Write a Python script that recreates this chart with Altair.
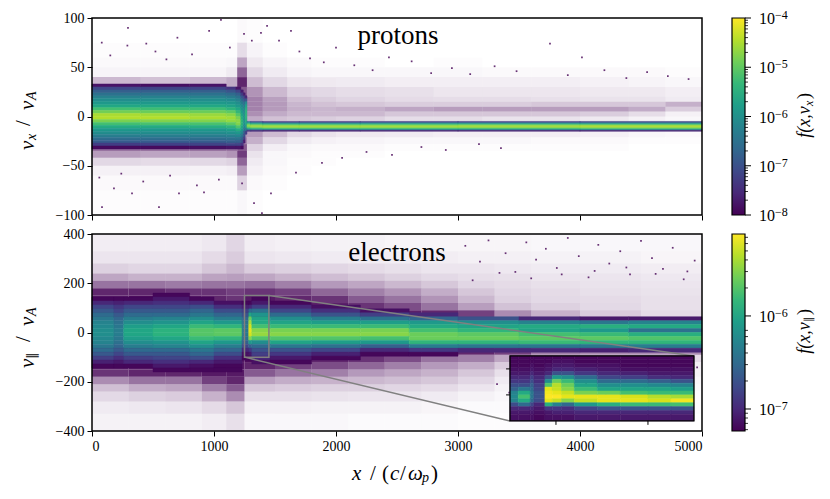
import altair as alt
import pandas as pd

SERIF = "Liberation Serif"
PURPLE = "#440154"
N = None

# ---- protons: core, log10 f, one list per x column, top row first
p_core_x = [0, 400, 800, 1100, 1180, 1220, 1240, 1255, 1270]
p_core_v = [36, 33, 30, 27, 24, 21, 18, 15, 12, 9, 6, 3, 0, -3, -6, -9, -12, -15, -18, -21, -24, -27, -30, -33, -36]
p_core = [
    [N, -7.8, -7.15, -6.8, -6.5, -6.25, -6.05, -5.85, -5.6, -5.2, -4.85, -4.5, -4.45, -4.8, -5.2, -5.55, -5.85, -6.05, -6.3, -6.55, -6.85, -7.3, -7.9, N],
    [N, -7.85, -7.2, -6.8, -6.5, -6.25, -6.05, -5.85, -5.6, -5.25, -4.9, -4.55, -4.45, -4.75, -5.15, -5.55, -5.85, -6.05, -6.3, -6.55, -6.85, -7.25, -7.9, N],
    [N, -7.8, -7.2, -6.8, -6.5, -6.25, -6.05, -5.85, -5.6, -5.25, -4.9, -4.6, -4.5, -4.75, -5.15, -5.5, -5.85, -6.05, -6.3, -6.55, -6.85, -7.2, -7.85, N],
    [N, N, -7.4, -6.95, -6.6, -6.35, -6.1, -5.9, -5.7, -5.4, -5.0, -4.7, -4.55, -4.65, -5.0, -5.4, -5.75, -6.0, -6.25, -6.5, -6.8, -7.2, -7.8, N],
    [N, N, -7.8, -7.2, -6.8, -6.5, -6.25, -6.05, -5.85, -5.6, -5.35, -5.05, -4.8, -4.7, -4.75, -5.1, -5.5, -5.85, -6.15, -6.45, -6.8, -7.2, -7.8, N],
    [N, N, N, -7.7, -7.3, -6.9, -6.6, -6.35, -6.1, -5.95, -5.8, -5.65, -5.5, -5.4, -5.4, -5.55, -5.8, -6.1, -6.4, -6.7, -7.0, -7.4, -7.9, N],
    [N, N, N, N, -7.7, -7.2, -6.9, -6.6, -6.4, -6.25, -6.15, -6.05, -6.0, -6.0, -6.05, -6.2, -6.45, -6.75, -7.0, -7.3, -7.7, N, N, N],
    [N, N, N, N, N, -7.6, -6.9, -6.1, -5.7, -5.5, -5.45, -5.4, -5.4, -5.5, -5.7, -6.0, -6.6, -7.3, N, N, N, N, N, N],
]

# protons: cold beam behind the shock
p_beam_x = [1270, 1300, 1400, 1700, 2200, 3000, 4000, 5000]
p_beam_v = [-5, -6, -7, -8, -9, -10, -11, -12, -13, -14, -15]
p_beam = [
    [-6.6, -5.9, -5.3, -4.9, -4.7, -4.8, -5.1, -5.7, -6.4, -7.4],
    [-7.2, -6.4, -5.6, -5.0, -4.65, -4.6, -4.85, -5.4, -6.3, -7.5],
    [-7.4, -6.8, -5.8, -5.1, -4.7, -4.55, -4.7, -5.2, -6.2, -7.6],
    [-7.4, -6.8, -5.8, -5.1, -4.7, -4.55, -4.7, -5.2, -6.2, -7.6],
    [-7.3, -6.7, -5.7, -5.1, -4.7, -4.55, -4.7, -5.2, -6.1, -7.6],
    [-7.3, -6.7, -5.7, -5.0, -4.65, -4.55, -4.7, -5.2, -6.1, -7.6],
    [-7.2, -6.7, -5.7, -5.0, -4.6, -4.5, -4.65, -5.1, -6.0, -7.6],
]

# protons: share of speckled pixels (percent), one list per v row, top row first
p_haze_x = [0, 400, 800, 1100, 1190, 1270, 1400, 1600, 1800, 2000, 2400, 2800, 3200, 3600, 4000, 4400, 4700, 5000]
p_haze_v = [100, 75, 60, 50, 40, 30, 20, 15, 10, 5, 0, -5, -14, -21, -28, -35, -42, -50, -60, -75, -100]
p_haze = [
    [0, 0, 0, 0, 2, 1, 0, 0, 0, 0, 0, 0, 0, 0, 0, 0, 0],
    [1, 1, 1, 1, 12, 4, 1, 0, 0, 0, 0, 0, 0, 0, 0, 0, 0],
    [2, 2, 2, 3, 32, 8, 4, 2, 1, 1, 0, 1, 0, 0, 0, 0, 0],
    [4, 4, 4, 7, 55, 14, 7, 4, 3, 3, 3, 3, 2, 2, 2, 2, 1],
    [25, 22, 25, 30, 78, 24, 14, 9, 8, 7, 6, 6, 6, 6, 5, 4, 3],
    [50, 50, 50, 50, 60, 38, 25, 16, 14, 12, 11, 9, 9, 9, 8, 8, 6],
    [0, 0, 0, 0, 40, 45, 34, 22, 18, 15, 13, 12, 12, 11, 10, 10, 7],
    [0, 0, 0, 0, 30, 45, 36, 26, 22, 20, 18, 18, 18, 20, 20, 20, 28],
    [0, 0, 0, 0, 30, 45, 36, 28, 26, 28, 32, 35, 35, 35, 35, 30, 18],
    [0, 0, 0, 0, 30, 40, 30, 25, 25, 25, 20, 20, 20, 20, 18, 12, 5],
    [0, 0, 0, 0, 30, 30, 22, 20, 18, 16, 12, 12, 10, 10, 8, 5, 3],
    [0, 0, 0, 0, 0, 0, 0, 0, 0, 0, 0, 0, 0, 0, 0, 0, 0],
    [0, 0, 0, 0, 40, 36, 24, 14, 10, 8, 7, 6, 6, 6, 5, 3, 2],
    [0, 0, 0, 0, 45, 28, 14, 7, 5, 4, 3, 3, 3, 2, 2, 1, 1],
    [50, 50, 50, 50, 60, 16, 6, 3, 2, 2, 1, 1, 1, 1, 1, 0, 0],
    [35, 32, 34, 38, 70, 10, 3, 2, 1, 1, 0, 0, 0, 0, 0, 0, 0],
    [14, 13, 14, 16, 55, 7, 3, 1, 1, 0, 0, 0, 0, 0, 0, 0, 0],
    [5, 5, 5, 6, 35, 5, 2, 1, 0, 0, 0, 0, 0, 0, 0, 0, 0],
    [2, 2, 2, 2, 16, 2, 1, 0, 0, 0, 0, 0, 0, 0, 0, 0, 0],
    [1, 1, 1, 1, 3, 1, 0, 0, 0, 0, 0, 0, 0, 0, 0, 0, 0],
]

# protons: single far speckles
p_dots_x = [80, 295, 290, 445, 700, 960, 1057, 1435, 1385, 1310, 1246, 1533, 1631, 1787, 2000, 2434,
            150, 520, 610, 820, 1130, 1700, 1900, 2150, 2300, 2620, 2780, 2950, 3100, 3300, 3480, 3754,
            3900, 4016, 4200, 4380, 4550, 4720, 4890, 82, 180, 328, 549, 713, 918, 1230, 1328, 1393,
            1467, 1672, 1885, 2459, 3352, 3172, 60, 240, 420, 640, 860, 1040, 2050, 2250, 2700, 2900]
p_dots_v = [75, 90, 72, 74, 80, 87, 98, 92, 85, 77, 84, 77, 87, 59, 70, 60,
            62, 66, 58, 63, 70, 66, 55, 52, 47, 56, 44, 49, 43, 51, 46, 74,
            42, 60, 47, 39, 45, 41, 38, -92, -73, -78, -92, -78, -77, -68, -88, -98,
            -78, -57, -47, -39, -32, -28, -62, -58, -66, -60, -70, -64, -42, -36, -31, -34]

# ---- electrons: core, log10 f, one list per x column, top row first
e_core_x = [0, 180, 260, 500, 800, 1000, 1230, 1285, 1310, 1460, 1800, 2200, 2600, 3000, 3500, 4000, 4400, 5000]
e_core_v = [192, 176, 160, 144, 128, 112, 96, 80, 64, 48, 32, 16, 0, -16, -32, -48, -64, -80, -96, -112, -128, -144, -160, -176, -192]
e_core = [
    [N, N, N, -7.2, -7.0, -6.8, -6.65, -6.5, -6.4, -6.3, -6.25, -6.2, -6.2, -6.25, -6.3, -6.4, -6.5, -6.65, -6.85, -7.05, -7.2, N, N, N],
    [N, N, N, -7.2, -7.05, -6.9, -6.8, -6.65, -6.55, -6.45, -6.4, -6.35, -6.35, -6.4, -6.45, -6.55, -6.65, -6.8, -6.95, -7.1, -7.2, N, N, N],
    [N, N, N, -7.2, -7.0, -6.8, -6.65, -6.5, -6.35, -6.2, -6.05, -5.98, -5.98, -6.05, -6.2, -6.35, -6.5, -6.65, -6.85, -7.0, -7.2, N, N, N],
    [N, N, -7.2, -7.1, -6.95, -6.8, -6.65, -6.5, -6.3, -6.15, -5.98, -5.88, -5.88, -5.98, -6.15, -6.3, -6.5, -6.65, -6.8, -6.95, -7.1, -7.2, N, N],
    [N, N, N, -7.2, -7.0, -6.75, -6.55, -6.4, -6.2, -6.0, -5.8, -5.68, -5.68, -5.8, -6.0, -6.2, -6.4, -6.55, -6.75, -7.0, -7.15, -7.2, N, N],
    [N, N, N, N, -7.15, -6.95, -6.75, -6.55, -6.35, -6.1, -5.85, -5.65, -5.65, -5.85, -6.1, -6.35, -6.55, -6.75, -6.95, -7.1, -7.2, -7.2, N, N],
    [N, N, N, N, -7.2, -7.05, -6.85, -6.7, -6.55, -6.45, -6.4, -6.4, -6.4, -6.45, -6.6, -6.8, -7.0, -7.15, -7.2, N, N, N, N, N],
    [N, N, N, N, -7.2, -7.0, -6.5, -6.0, -5.6, -5.4, -5.25, -5.2, -5.25, -5.5, -6.1, -6.6, -6.9, -7.1, -7.2, N, N, N, N, N],
    [N, N, N, -7.2, -7.1, -6.85, -6.45, -6.15, -6.0, -5.95, -5.75, -5.5, -5.45, -5.7, -6.2, -6.5, -6.7, -6.85, -7.0, -7.15, N, N, N, N],
    [N, N, N, N, -7.2, -7.0, -6.8, -6.5, -6.2, -6.0, -5.8, -5.55, -5.5, -5.7, -6.0, -6.4, -6.7, -6.9, -7.1, -7.2, N, N, N, N],
    [N, N, N, N, N, -7.15, -6.95, -6.7, -6.35, -6.05, -5.8, -5.55, -5.5, -5.7, -6.05, -6.45, -6.8, -7.05, -7.2, N, N, N, N, N],
    [N, N, N, N, N, N, -7.15, -6.85, -6.45, -6.05, -5.8, -5.55, -5.5, -5.75, -6.1, -6.6, -7.0, -7.2, N, N, N, N, N, N],
    [N, N, N, N, N, N, N, -7.0, -6.55, -6.1, -5.95, -5.75, -5.6, -5.6, -5.85, -6.35, -6.9, -7.2, N, N, N, N, N, N],
    [N, N, N, N, N, N, N, N, -6.7, -6.2, -6.0, -5.85, -5.65, -5.6, -5.85, -6.4, -7.0, N, N, N, N, N, N, N],
    [N, N, N, N, N, N, N, N, -7.0, -6.3, -5.95, -6.0, -5.75, -5.65, -5.8, -6.4, -7.0, N, N, N, N, N, N, N],
    [N, N, N, N, N, N, N, N, -7.1, -6.4, -5.9, -6.1, -5.8, -5.65, -5.85, -6.4, -7.05, N, N, N, N, N, N, N],
    [N, N, N, N, N, N, N, N, -7.1, -6.3, -5.95, -6.45, -5.9, -5.7, -5.85, -6.35, -7.0, N, N, N, N, N, N, N],
]

# electrons: share of speckled pixels (percent), one list per v row, top row first
e_haze_x = [0, 300, 600, 900, 1100, 1250, 1500, 1800, 2100, 2400, 2700, 3000, 3300, 3600, 4000, 4500, 5000]
e_haze_v = [400, 330, 280, 240, 210, 180, 150, 120, 90, 60, -60, -90, -120, -150, -180, -210, -240, -280, -330, -400]
e_haze = [
    [7, 7, 7, 9, 16, 7, 6, 5, 5, 4, 4, 4, 4, 3, 3, 3],
    [10, 10, 10, 14, 20, 10, 9, 8, 7, 7, 7, 6, 6, 5, 5, 4],
    [18, 16, 16, 22, 28, 20, 18, 16, 14, 12, 10, 10, 9, 8, 8, 7],
    [35, 30, 30, 36, 38, 35, 30, 26, 22, 18, 15, 13, 12, 10, 10, 9],
    [55, 55, 52, 55, 55, 58, 50, 40, 35, 28, 22, 16, 14, 12, 11, 10],
    [85, 85, 80, 80, 75, 80, 75, 60, 50, 42, 32, 22, 16, 14, 12, 11],
    [90, 95, 90, 85, 80, 90, 85, 80, 65, 55, 42, 28, 18, 15, 14, 12],
    [90, 95, 95, 90, 85, 95, 92, 88, 80, 70, 55, 38, 24, 18, 15, 12],
    [90, 95, 95, 90, 85, 95, 95, 95, 90, 88, 85, 75, 45, 30, 20, 14],
    [0, 0, 0, 0, 0, 0, 0, 0, 0, 0, 0, 0, 0, 0, 0, 0],
    [90, 95, 95, 90, 85, 95, 95, 95, 95, 92, 90, 85, 75, 50, 45, 45],
    [90, 95, 95, 95, 90, 95, 92, 85, 80, 70, 55, 50, 35, 18, 14, 14],
    [90, 90, 90, 92, 90, 85, 75, 70, 60, 50, 40, 32, 20, 10, 8, 7],
    [80, 85, 85, 90, 90, 65, 55, 50, 40, 35, 30, 22, 12, 8, 6, 5],
    [45, 55, 55, 75, 85, 38, 32, 30, 28, 25, 22, 16, 8, 5, 4, 3],
    [25, 32, 35, 50, 65, 22, 20, 18, 18, 16, 14, 10, 5, 3, 3, 2],
    [15, 18, 20, 30, 45, 12, 12, 11, 10, 10, 8, 5, 3, 2, 2, 1],
    [8, 9, 10, 14, 22, 6, 6, 5, 5, 5, 4, 2, 2, 1, 1, 1],
    [5, 5, 5, 7, 12, 3, 3, 3, 2, 2, 2, 1, 1, 1, 0, 0],
]

# electrons: single far speckles
e_dots_x = [3060, 3180, 3250, 3390, 3470, 3560, 3640, 3720, 3810, 3900, 3990, 4070, 4150, 4240, 4330, 4410,
            4500, 4590, 4680, 4760, 4850, 4940, 3120, 3340, 3600, 3850, 4120, 4380, 4620, 4880,
            3320, 3420, 3530, 3670, 3780, 3920, 4050, 4210, 4370, 4530, 4690, 4830, 4960]
e_dots_v = [352, 288, 374, 322, 246, 366, 296, 340, 262, 384, 310, 224, 356, 280, 330, 236,
            372, 302, 258, 344, 216, 292, 212, 242, 220, 236, 250, 264, 238, 248,
            -210, -244, -262, -198, -230, -276, -208, -248, -186, -226, -170, -198, -142]

# electrons inset, log10 f, one list per x column, top row first
i_x = [1250, 1259, 1272, 1276, 1288, 1296, 1306, 1320, 1345, 1370, 1400, 1425, 1450]
i_v = [150, 135, 120, 105, 90, 75, 60, 45, 30, 15, 0, -15, -30, -45, -60, -75, -100]
i_cells = [
    [-7.2, -7.2, -7.2, -7.15, -7.1, -7.0, -6.9, -6.75, -6.6, -6.3, -6.25, -6.3, -6.75, -7.0, -7.1, -7.15],
    [-7.2, -7.2, -7.2, -7.15, -7.1, -7.0, -6.9, -6.75, -6.4, -5.95, -5.75, -5.95, -6.5, -7.0, -7.1, -7.15],
    [-7.2, -7.2, -7.15, -7.1, -7.0, -6.85, -6.75, -6.6, -6.5, -6.4, -6.4, -6.5, -6.8, -7.0, -7.1, -7.15],
    [-7.2, -7.2, -7.2, -7.15, -7.1, -7.0, -6.95, -6.85, -6.8, -6.7, -6.7, -6.75, -7.0, -7.1, -7.15, -7.2],
    [-7.2, -7.2, -7.15, -7.1, -7.0, -6.7, -6.2, -5.7, -5.2, -5.15, -5.12, -5.2, -5.9, -6.9, -7.1, -7.15],
    [-7.2, -7.15, -7.1, -7.0, -6.7, -6.1, -5.6, -5.35, -5.3, -5.2, -5.12, -5.3, -6.3, -6.9, -7.05, -7.15],
    [-7.2, -7.15, -7.1, -7.0, -6.7, -6.2, -5.8, -5.6, -5.5, -5.3, -5.2, -5.5, -6.5, -6.95, -7.05, -7.15],
    [-7.2, -7.2, -7.15, -7.05, -6.9, -6.5, -6.2, -6.0, -5.8, -5.55, -5.2, -5.3, -6.1, -6.8, -7.0, -7.1],
    [-7.2, -7.2, -7.15, -7.1, -7.0, -6.8, -6.5, -6.2, -6.0, -5.6, -5.2, -5.2, -5.9, -6.7, -7.0, -7.1],
    [-7.2, -7.2, -7.2, -7.15, -7.05, -6.85, -6.5, -6.2, -6.0, -5.75, -5.25, -5.2, -5.8, -6.7, -7.0, -7.1],
    [-7.2, -7.2, -7.2, -7.15, -7.1, -6.95, -6.6, -6.25, -6.0, -5.8, -5.35, -5.25, -5.8, -6.7, -7.0, -7.1],
    [-7.2, -7.2, -7.2, -7.15, -7.1, -7.0, -6.7, -6.3, -6.05, -5.8, -5.4, -5.15, -5.75, -6.7, -7.0, -7.1],
]

# where the zoom box and the inset sit, in the lower panel's own units
box_x = [1250, 1450]
box_v = [-100, 150]
inset_x = [3426, 4934]
inset_v = [-359, -95]
inset_ticks_x = [1300, 1400]
inset_ticks_v = [0, 100]

# colourbars
VIRIDIS = ["#440154", "#482878", "#3e4989", "#31688e", "#26828e", "#1f9e89", "#35b779", "#6ece58", "#b5de2b", "#fde725"]
cb1_major = [1e-8, 1e-7, 1e-6, 1e-5, 1e-4]
cb1_exp = ["\u22128", "\u22127", "\u22126", "\u22125", "\u22124"]
cb2_major = [1e-7, 1e-6]
cb2_exp = ["\u22127", "\u22126"]
cb1_domain = [1e-8, 1e-4]
cb2_domain = [5.8e-8, 7.6e-6]

W, H = 610, 197
BLANK = pd.DataFrame({"a": [0]})


def cells(xs, vs, columns):
    rows = []
    for i, col in enumerate(columns):
        for j, val in enumerate(col):
            if val is not None:
                rows.append({"x": xs[i], "x2": xs[i + 1], "v": vs[j], "v2": vs[j + 1], "f": val})
    return pd.DataFrame(rows)


def haze(xs, vs, rows_pct, gain):
    rows = []
    for j, row in enumerate(rows_pct):
        for i, pct in enumerate(row):
            if pct > 0:
                rows.append({"x": xs[i], "x2": xs[i + 1], "v": vs[j], "v2": vs[j + 1], "p": min(pct / 100 * gain, 1)})
    return pd.DataFrame(rows)


def label(text, x, y, size=21, style="normal", angle=0, align="left"):
    return alt.Chart(BLANK).mark_text(
        text=text, font=SERIF, fontSize=size, fontStyle=style, angle=angle,
        align=align, baseline="middle", color="black",
    ).encode(x=alt.value(x), y=alt.value(y))


def panel(core_frames, haze_df, dots_df, x_scale, v_scale, v_ticks, color_scale, x_labels):
    x_axis = alt.Axis(values=[0, 1000, 2000, 3000, 4000, 5000], labels=x_labels, title=None, format="d")
    y_axis = alt.Axis(values=v_ticks, title=None, format="d")
    base = (
        alt.Chart(haze_df)
        .mark_rect(color=PURPLE)
        .encode(
            x=alt.X("x:Q", scale=x_scale, axis=x_axis),
            x2="x2:Q",
            y=alt.Y("v:Q", scale=v_scale, axis=y_axis),
            y2="v2:Q",
            opacity=alt.Opacity("p:Q", scale=None, legend=None),
        )
    )
    dots = (
        alt.Chart(dots_df)
        .mark_square(size=3, color=PURPLE, opacity=0.8)
        .encode(x=alt.X("x:Q", scale=x_scale), y=alt.Y("v:Q", scale=v_scale))
    )
    layers = [base, dots]
    for df in core_frames:
        layers.append(
            alt.Chart(df)
            .mark_rect(strokeWidth=0.5)
            .encode(
                x=alt.X("x:Q", scale=x_scale),
                x2="x2:Q",
                y=alt.Y("v:Q", scale=v_scale),
                y2="v2:Q",
                color=alt.Color("f:Q", scale=color_scale, legend=None),
                stroke=alt.Stroke("f:Q", scale=color_scale, legend=None),
            )
        )
    return layers


def frame(xs, vs, x_scale, v_scale, stroke="black", width=1.5):
    df = pd.DataFrame({"x": [xs[0]], "x2": [xs[1]], "v": [vs[0]], "v2": [vs[1]]})
    return (
        alt.Chart(df)
        .mark_rect(fillOpacity=0, stroke=stroke, strokeWidth=width)
        .encode(
            x=alt.X("x:Q", scale=x_scale),
            x2="x2:Q",
            y=alt.Y("v:Q", scale=v_scale),
            y2="v2:Q",
        )
    )


def colorbar(domain, major, exps, minor):
    y_scale = alt.Scale(type="log", domain=domain, nice=False)
    bar = (
        alt.Chart(pd.DataFrame({"a": [domain[0]], "b": [domain[1]]}))
        .mark_rect(
            fill=alt.Gradient(
                gradient="linear", x1=0, y1=1, x2=0, y2=0,
                stops=[alt.GradientStop(offset=i / (len(VIRIDIS) - 1), color=c) for i, c in enumerate(VIRIDIS)],
            ),
            stroke="black", strokeWidth=1.2,
        )
        .encode(y=alt.Y("a:Q", scale=y_scale, axis=None), y2="b:Q", x=alt.value(0), x2=alt.value(13))
    )
    df = pd.DataFrame({"t": major, "e": exps})
    big = alt.Chart(df).mark_rule(color="black", strokeWidth=1).encode(
        y=alt.Y("t:Q", scale=y_scale, axis=None), x=alt.value(13), x2=alt.value(19))
    small = alt.Chart(pd.DataFrame({"t": minor})).mark_rule(color="black", strokeWidth=0.8).encode(
        y=alt.Y("t:Q", scale=y_scale, axis=None), x=alt.value(13), x2=alt.value(16))
    tens = alt.Chart(df).mark_text(text="10", font=SERIF, fontSize=16, align="left", baseline="middle", dy=1).encode(
        y=alt.Y("t:Q", scale=y_scale, axis=None), x=alt.value(27))
    power = alt.Chart(df).mark_text(font=SERIF, fontSize=12, align="left", baseline="middle", dy=-3).encode(
        y=alt.Y("t:Q", scale=y_scale, axis=None), x=alt.value(43), text="e:N")
    return [bar, small, big, tens, power]


x_scale = alt.Scale(domain=[0, 5000], nice=False)
top_scale = alt.Scale(domain=[-100, 100], nice=False)
bot_scale = alt.Scale(domain=[-400, 400], nice=False)
top_colors = alt.Scale(domain=[-8, -4], scheme="viridis", clamp=True)
bot_colors = alt.Scale(domain=[-7.235, -5.12], scheme="viridis", clamp=True)

# ---- upper panel
top_layers = panel(
    [cells(p_core_x, p_core_v, p_core), cells(p_beam_x, p_beam_v, p_beam)],
    haze(p_haze_x, p_haze_v, p_haze, 1.1),
    pd.DataFrame({"x": p_dots_x, "v": p_dots_v}),
    x_scale, top_scale, [-100, -50, 0, 50, 100], top_colors, False,
)
top = alt.layer(
    *top_layers,
    frame([0, 5000], [-100, 100], x_scale, top_scale),
    label("protons", 306, 18, size=27, align="center"),
    label("v", -64, 132, angle=270, style="italic"),
    label("x", -60, 122, size=14, angle=270, style="italic"),
    label("/", -68, 108, angle=270),
    label("v", -64, 92, angle=270, style="italic"),
    label("A", -60, 82, size=14, angle=270, style="italic"),
).properties(width=W, height=H)

# ---- lower panel
ix0, ix1 = inset_x
iv0, iv1 = inset_v


def to_main_x(x):
    return ix0 + (x - box_x[0]) / (box_x[1] - box_x[0]) * (ix1 - ix0)


def to_main_v(v):
    return iv0 + (v - box_v[0]) / (box_v[1] - box_v[0]) * (iv1 - iv0)


inset_df = cells([to_main_x(x) for x in i_x], [to_main_v(v) for v in i_v], i_cells)
inset_marks = (
    alt.Chart(inset_df)
    .mark_rect(strokeWidth=0.5)
    .encode(
        x=alt.X("x:Q", scale=x_scale),
        x2="x2:Q",
        y=alt.Y("v:Q", scale=bot_scale),
        y2="v2:Q",
        color=alt.Color("f:Q", scale=bot_colors, legend=None),
        stroke=alt.Stroke("f:Q", scale=bot_colors, legend=None),
    )
)
links = pd.DataFrame({
    "x": [box_x[1], inset_x[1], box_x[0], inset_x[0]],
    "v": [box_v[1], inset_v[1], box_v[0], inset_v[0]],
    "g": ["upper", "upper", "lower", "lower"],
})
link_lines = alt.Chart(links).mark_line(color="#808080", strokeWidth=1.5).encode(
    x=alt.X("x:Q", scale=x_scale), y=alt.Y("v:Q", scale=bot_scale), detail="g:N"
)
tick_x = pd.DataFrame({"x": [to_main_x(t) for t in inset_ticks_x], "v": [inset_v[0]] * 2, "v2": [inset_v[0] - 16] * 2})
tick_y = pd.DataFrame({"v": [to_main_v(t) for t in inset_ticks_v], "x": [inset_x[0] - 32] * 2, "x2": [inset_x[0]] * 2})
inset_xt = alt.Chart(tick_x).mark_rule(color="black", strokeWidth=1).encode(
    x=alt.X("x:Q", scale=x_scale), y=alt.Y("v:Q", scale=bot_scale), y2="v2:Q")
inset_yt = alt.Chart(tick_y).mark_rule(color="black", strokeWidth=1).encode(
    x=alt.X("x:Q", scale=x_scale), x2="x2:Q", y=alt.Y("v:Q", scale=bot_scale))

bot_layers = panel(
    [cells(e_core_x, e_core_v, e_core)],
    haze(e_haze_x, e_haze_v, e_haze, 1.0),
    pd.DataFrame({"x": e_dots_x, "v": e_dots_v}),
    x_scale, bot_scale, [-400, -200, 0, 200, 400], bot_colors, True,
)
bottom = alt.layer(
    *bot_layers,
    frame(box_x, box_v, x_scale, bot_scale, stroke="#808080"),
    link_lines,
    inset_marks,
    frame(inset_x, inset_v, x_scale, bot_scale, width=1.3),
    inset_xt,
    inset_yt,
    frame([0, 5000], [-400, 400], x_scale, bot_scale),
    label("electrons", 305, 19, size=27, align="center"),
    label("v", -64, 134, angle=270, style="italic"),
    label("\u2225", -60, 125, size=13, angle=270),
    label("/", -68, 108, angle=270),
    label("v", -64, 92, angle=270, style="italic"),
    label("A", -60, 82, size=14, angle=270, style="italic"),
    label("x", 260, 240, style="italic"),
    label("/", 278, 240),
    label("(", 290, 240),
    label("c", 298, 240, style="italic"),
    label("/", 308, 240),
    label("\u03c9", 316, 240, style="italic"),
    label("p", 330, 244, size=14, style="italic"),
    label(")", 339, 240),
).properties(width=W, height=H)

minor_top = [m * 10.0**k for k in (-8, -7, -6, -5) for m in (2, 3, 4, 5, 6, 7, 8, 9)]
minor_bot = [6e-8, 7e-8, 8e-8, 9e-8] + [m * 10.0**k for k in (-7, -6) for m in (2, 3, 4, 5, 6, 7)]

cb_top = alt.layer(
    *colorbar(cb1_domain, cb1_major, cb1_exp, minor_top),
    label("f(x,v", 73, 104, size=18, angle=270, style="italic", align="center"),
    label("x", 77, 88, size=12, angle=270, style="italic"),
    label(")", 73, 81, size=18, angle=270),
).properties(width=13, height=H)
cb_bot = alt.layer(
    *colorbar(cb2_domain, cb2_major, cb2_exp, minor_bot),
    label("f(x,v", 73, 104, size=18, angle=270, style="italic", align="center"),
    label("\u2225", 77, 88, size=11, angle=270),
    label(")", 73, 81, size=18, angle=270),
).properties(width=13, height=H)

chart = (
    alt.concat(top, cb_top, bottom, cb_bot, columns=2, spacing={"row": 19, "column": 30}, bounds="flush")
    .resolve_scale(color="independent", stroke="independent")
    .properties(padding={"left": 5, "top": 1, "right": 5, "bottom": 5})
    .configure_view(stroke=None)
    .configure_axis(
        grid=False, domain=False, tickColor="black", tickSize=5, tickWidth=1,
        labelFont=SERIF, labelFontSize=14, labelColor="black", labelPadding=3,
    )
)

chart.save("out.html", embed_options={"renderer": "svg", "actions": False})
